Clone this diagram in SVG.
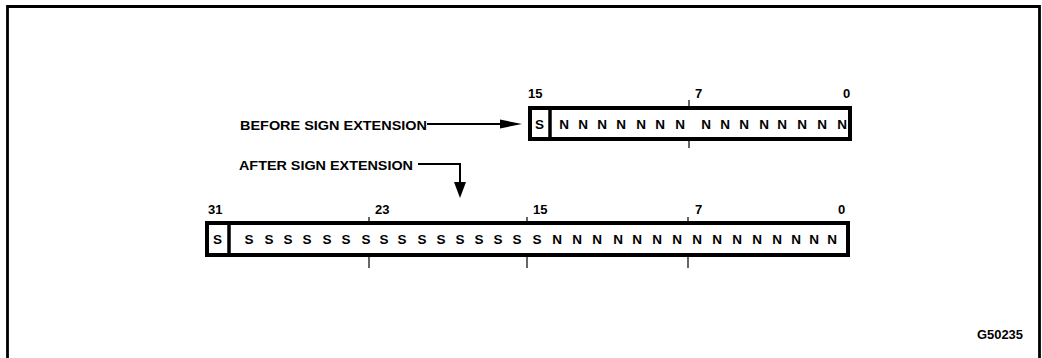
<svg xmlns="http://www.w3.org/2000/svg" width="1042" height="358" viewBox="0 0 1042 358">
<style>
text{font-family:"Liberation Sans",Arial,sans-serif;font-weight:bold;fill:#000}
.bit{font-size:13.5px;text-anchor:middle}
.num{font-size:13px}
.lbl{font-size:13px}
.box{fill:#fff;stroke:#000;stroke-width:4}
.div{stroke:#000;stroke-width:3.5}
.tick{stroke:#000;stroke-width:1.2}
.conn{fill:none;stroke:#000;stroke-width:2}
.head{fill:#000}
</style>
<rect x="0" y="0" width="1042" height="358" fill="#fff"/>
<path d="M7.5,362 V6.5 H1039.5 V362" fill="none" stroke="#000" stroke-width="2.8"/>

<g id="before-register">
<rect class="box" x="530" y="108" width="320" height="31"/>
<line class="div" x1="550" y1="108" x2="550" y2="139"/>
<line class="tick" x1="689" y1="100" x2="689" y2="108"/>
<line class="tick" x1="689" y1="139" x2="689" y2="148"/>
<text class="num" x="528" y="98">15</text>
<text class="num" x="695" y="98">7</text>
<text class="num" x="843" y="98">0</text>
<text class="bit" x="539.5" y="129">S</text>
<text class="bit" x="564,583,602,621,641,660,680,706,725,744,764,782,802,822,842" y="129">NNNNNNNNNNNNNNN</text>
</g>

<g id="after-register">
<rect class="box" x="207" y="223" width="641" height="32"/>
<line class="div" x1="229" y1="223" x2="229" y2="255"/>
<line class="tick" x1="369" y1="217" x2="369" y2="223"/>
<line class="tick" x1="369" y1="255" x2="369" y2="268"/>
<line class="tick" x1="527" y1="217" x2="527" y2="223"/>
<line class="tick" x1="527" y1="255" x2="527" y2="268"/>
<line class="tick" x1="688" y1="217" x2="688" y2="223"/>
<line class="tick" x1="688" y1="255" x2="688" y2="268"/>
<text class="num" x="208" y="214">31</text>
<text class="num" x="375" y="214">23</text>
<text class="num" x="533" y="214">15</text>
<text class="num" x="695" y="214">7</text>
<text class="num" x="838" y="214">0</text>
<text class="bit" x="217.5" y="244">S</text>
<text class="bit" x="249,269,288,307,327,346,366,384,402,422,441,460,479,498,517,537" y="244">SSSSSSSSSSSSSSSS</text>
<text class="bit" x="557,577,597,618,637,657,677,697,717,737,757,777,796,814,832" y="244">NNNNNNNNNNNNNNN</text>
</g>

<g id="before-label">
<text class="lbl" x="240" y="130" textLength="187" lengthAdjust="spacingAndGlyphs">BEFORE SIGN EXTENSION</text>
</g>
<g id="after-label">
<text class="lbl" x="239" y="170" textLength="174" lengthAdjust="spacingAndGlyphs">AFTER SIGN EXTENSION</text>
</g>
<g id="G50235-label">
<text class="lbl" x="977" y="339" textLength="46" lengthAdjust="spacingAndGlyphs">G50235</text>
</g>

<g id="connectors">
<path class="conn" d="M427,124 H505"/>
<path class="head" d="M500,119.5 L522,124 L500,128.5 Z"/>
<path class="conn" d="M418,164 H460 V185"/>
<path class="head" d="M454,182 L460,198 L466,182 Z"/>
</g>
</svg>
